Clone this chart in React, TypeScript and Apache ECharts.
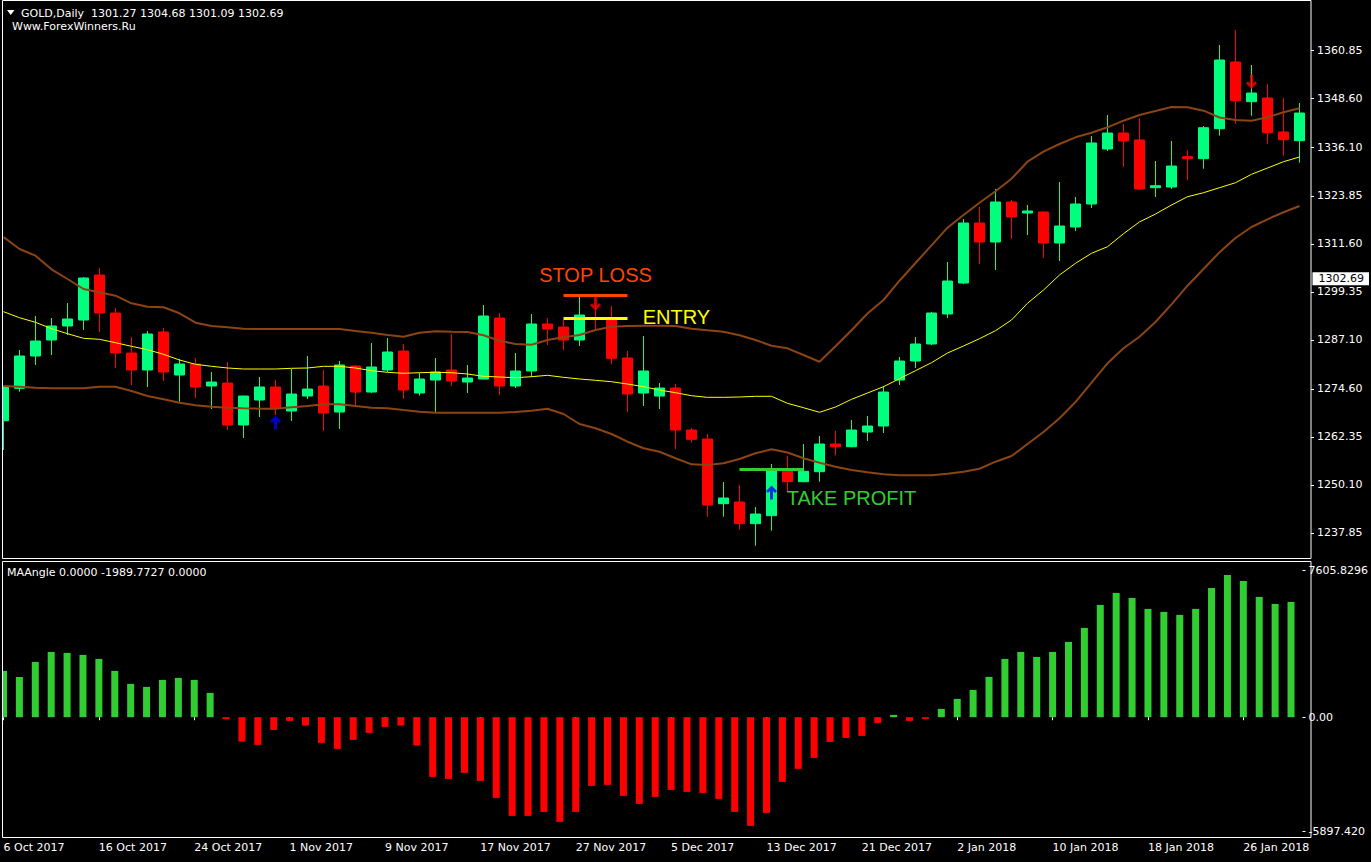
import { useEffect, useRef } from "react";
import * as echarts from "echarts";

const dates = [
  "6 Oct 2017", "9 Oct 2017", "10 Oct 2017", "11 Oct 2017", "12 Oct 2017", "13 Oct 2017",
  "16 Oct 2017", "17 Oct 2017", "18 Oct 2017", "19 Oct 2017", "20 Oct 2017", "23 Oct 2017",
  "24 Oct 2017", "25 Oct 2017", "26 Oct 2017", "27 Oct 2017", "30 Oct 2017", "31 Oct 2017",
  "1 Nov 2017", "2 Nov 2017", "3 Nov 2017", "6 Nov 2017", "7 Nov 2017", "8 Nov 2017",
  "9 Nov 2017", "10 Nov 2017", "13 Nov 2017", "14 Nov 2017", "15 Nov 2017", "16 Nov 2017",
  "17 Nov 2017", "20 Nov 2017", "21 Nov 2017", "22 Nov 2017", "23 Nov 2017", "24 Nov 2017",
  "27 Nov 2017", "28 Nov 2017", "29 Nov 2017", "30 Nov 2017", "1 Dec 2017", "4 Dec 2017",
  "5 Dec 2017", "6 Dec 2017", "7 Dec 2017", "8 Dec 2017", "11 Dec 2017", "12 Dec 2017",
  "13 Dec 2017", "14 Dec 2017", "15 Dec 2017", "18 Dec 2017", "19 Dec 2017", "20 Dec 2017",
  "21 Dec 2017", "22 Dec 2017", "26 Dec 2017", "27 Dec 2017", "28 Dec 2017", "29 Dec 2017",
  "2 Jan 2018", "3 Jan 2018", "4 Jan 2018", "5 Jan 2018", "8 Jan 2018", "9 Jan 2018",
  "10 Jan 2018", "11 Jan 2018", "12 Jan 2018", "15 Jan 2018", "16 Jan 2018", "17 Jan 2018",
  "18 Jan 2018", "19 Jan 2018", "22 Jan 2018", "23 Jan 2018", "24 Jan 2018", "25 Jan 2018",
  "26 Jan 2018", "29 Jan 2018", "30 Jan 2018", "31 Jan 2018",
];

const open = [
  1266.48, 1274.75, 1282.99, 1287.07, 1290.64, 1292.17, 1303.64, 1293.95, 1283.75, 1279.42,
  1289.11, 1278.14, 1280.95, 1275.33, 1276.10, 1265.39, 1271.76, 1275.08, 1268.96, 1272.78,
  1275.33, 1268.70, 1280.44, 1273.80, 1279.42, 1284.26, 1273.55, 1276.86, 1279.42, 1276.35,
  1277.12, 1292.68, 1275.33, 1279.16, 1291.15, 1290.38, 1287.07, 1292.55, 1292.17, 1282.48,
  1273.55, 1272.78, 1274.82, 1264.11, 1261.82, 1245.32, 1245.75, 1240.22, 1242.26, 1253.58,
  1250.93, 1253.48, 1260.54, 1259.85, 1263.60, 1265.13, 1276.86, 1281.71, 1286.05, 1293.70,
  1301.60, 1316.91, 1312.06, 1322.26, 1319.46, 1319.71, 1311.81, 1315.89, 1321.75, 1335.78,
  1339.86, 1338.08, 1325.91, 1326.09, 1333.82, 1333.31, 1340.96, 1357.97, 1347.84, 1348.79,
  1340.11, 1337.90,
];
const close = [
  1275.16, 1282.99, 1286.81, 1290.64, 1292.42, 1302.88, 1293.95, 1283.75, 1279.42, 1288.60,
  1278.91, 1280.95, 1275.08, 1276.35, 1265.39, 1272.78, 1275.08, 1269.72, 1273.29, 1274.57,
  1268.45, 1280.69, 1273.80, 1280.18, 1284.01, 1274.31, 1277.12, 1278.91, 1276.61, 1277.37,
  1293.19, 1275.33, 1279.16, 1291.15, 1289.87, 1287.07, 1293.44, 1292.29, 1282.40, 1273.29,
  1279.16, 1274.82, 1264.11, 1261.74, 1244.98, 1246.77, 1240.22, 1242.69, 1253.91, 1250.93,
  1253.58, 1260.54, 1259.85, 1264.11, 1265.13, 1273.80, 1281.71, 1286.05, 1293.95, 1302.11,
  1316.91, 1312.06, 1322.26, 1318.44, 1319.97, 1311.81, 1316.14, 1321.75, 1337.31, 1339.86,
  1337.82, 1325.58, 1326.42, 1331.44, 1333.31, 1341.21, 1358.48, 1348.10, 1350.06, 1339.94,
  1338.15, 1344.96,
];
const low = [
  1259.01, 1273.88, 1280.69, 1283.24, 1288.34, 1289.62, 1289.11, 1279.93, 1275.59, 1275.08,
  1276.61, 1271.33, 1272.27, 1269.47, 1264.11, 1262.07, 1267.43, 1267.94, 1266.41, 1272.02,
  1263.86, 1264.37, 1270.23, 1273.60, 1278.91, 1272.02, 1272.86, 1268.70, 1275.33, 1273.55,
  1277.00, 1273.04, 1274.82, 1277.63, 1285.79, 1284.52, 1285.54, 1289.87, 1280.87, 1268.70,
  1270.23, 1269.47, 1259.27, 1260.88, 1242.00, 1242.00, 1238.69, 1234.60, 1238.43, 1248.38,
  1250.80, 1250.93, 1257.66, 1259.70, 1261.31, 1263.35, 1275.59, 1279.93, 1285.79, 1292.68,
  1301.35, 1306.45, 1304.92, 1312.83, 1313.85, 1307.98, 1307.21, 1314.87, 1320.73, 1335.27,
  1331.19, 1325.40, 1323.54, 1325.58, 1327.87, 1330.75, 1339.17, 1342.23, 1344.27, 1337.13,
  1334.07, 1332.29,
];
const high = [
  1275.33, 1284.52, 1293.19, 1292.68, 1296.50, 1303.10, 1305.43, 1295.23, 1287.83, 1289.36,
  1290.13, 1282.22, 1282.48, 1278.91, 1281.46, 1272.90, 1277.63, 1276.86, 1279.67, 1282.99,
  1279.42, 1281.71, 1280.69, 1286.30, 1287.58, 1286.05, 1278.65, 1282.48, 1288.60, 1280.69,
  1295.99, 1293.95, 1283.75, 1293.70, 1292.68, 1292.17, 1298.03, 1295.99, 1295.74, 1284.26,
  1288.09, 1276.10, 1275.84, 1264.62, 1263.09, 1250.85, 1250.09, 1244.47, 1255.44, 1257.56,
  1260.54, 1262.58, 1263.86, 1266.66, 1267.68, 1275.33, 1282.73, 1287.83, 1294.21, 1306.96,
  1317.93, 1320.99, 1325.58, 1322.77, 1321.50, 1319.97, 1327.36, 1323.54, 1339.09, 1344.45,
  1342.16, 1343.69, 1332.72, 1337.82, 1335.52, 1341.64, 1362.30, 1366.13, 1357.20, 1352.36,
  1348.79, 1347.51,
];

const upperBand = [
  1313.34, 1310.28, 1308.57, 1305.10, 1302.62, 1300.07, 1299.23, 1298.37, 1296.43, 1295.56,
  1295.41, 1293.88, 1291.48, 1290.64, 1290.31, 1289.95, 1289.87, 1289.87, 1289.87, 1289.87,
  1289.87, 1289.87, 1289.36, 1288.93, 1288.34, 1287.91, 1288.93, 1289.29, 1289.18, 1289.11,
  1288.27, 1286.89, 1286.05, 1285.87, 1287.07, 1287.76, 1288.34, 1289.62, 1290.46, 1290.64,
  1290.71, 1290.71, 1290.64, 1289.95, 1289.54, 1289.18, 1288.27, 1287.07, 1285.61, 1284.95,
  1283.24, 1281.53, 1285.49, 1289.57, 1293.83, 1297.27, 1302.19, 1306.70, 1311.22, 1315.71,
  1318.95, 1322.08, 1324.99, 1328.20, 1332.54, 1335.09, 1337.05, 1338.76, 1339.94, 1341.31,
  1343.00, 1344.45, 1345.47, 1346.49, 1346.41, 1345.55, 1343.81, 1343.18, 1343.00, 1343.86,
  1345.14, 1346.16,
];
const middleBand = [
  1294.29, 1292.75, 1291.58, 1289.95, 1288.67, 1287.50, 1287.24, 1286.38, 1285.46, 1284.59,
  1283.42, 1281.97, 1280.87, 1280.36, 1279.93, 1279.67, 1279.67, 1279.67, 1279.85, 1279.93,
  1280.36, 1280.36, 1279.93, 1279.24, 1278.83, 1278.57, 1278.73, 1278.83, 1278.73, 1278.40,
  1277.81, 1277.63, 1277.45, 1277.71, 1278.06, 1277.55, 1277.12, 1276.79, 1276.43, 1275.84,
  1275.16, 1274.31, 1273.63, 1272.86, 1272.45, 1272.45, 1272.53, 1272.71, 1272.71, 1270.92,
  1269.80, 1268.63, 1269.98, 1271.94, 1273.55, 1275.16, 1277.20, 1279.24, 1281.28, 1283.75,
  1285.54, 1287.40, 1289.44, 1292.17, 1296.43, 1299.82, 1303.64, 1306.63, 1309.18, 1310.86,
  1314.18, 1317.19, 1319.20, 1321.50, 1323.61, 1324.63, 1325.91, 1327.18, 1329.33, 1330.93,
  1332.54, 1333.74,
];
const lowerBand = [
  1275.33, 1275.16, 1274.90, 1274.75, 1274.75, 1274.75, 1275.16, 1275.16, 1274.06, 1272.78,
  1271.94, 1271.08, 1270.41, 1270.06, 1269.80, 1269.65, 1269.55, 1269.55, 1269.90, 1270.23,
  1270.67, 1270.67, 1270.23, 1269.80, 1269.65, 1269.21, 1268.78, 1268.53, 1268.53, 1268.53,
  1268.53, 1268.53, 1268.70, 1269.04, 1269.55, 1268.19, 1265.64, 1264.55, 1263.09, 1261.13,
  1259.45, 1258.58, 1256.90, 1255.36, 1255.19, 1255.62, 1256.72, 1258.17, 1259.19, 1258.37,
  1256.90, 1255.77, 1254.75, 1253.91, 1253.32, 1252.82, 1252.56, 1252.56, 1252.56, 1252.97,
  1253.48, 1254.24, 1256.03, 1257.48, 1260.54, 1263.60, 1267.10, 1271.25, 1276.18, 1281.13,
  1284.95, 1287.91, 1291.66, 1296.17, 1300.92, 1305.17, 1309.43, 1313.08, 1315.89, 1317.85,
  1319.64, 1321.24,
];

const maAngle = [
  2395, 2085, 2861, 3378, 3326, 3223, 3016, 2395, 1723, 1568,
  1930, 2033, 1930, 1257, -100, -1262, -1433, -657, -191, -433,
  -1330, -1640, -1174, -812, -502, -433, -1469, -3088, -3192, -2881,
  -3295, -4175, -5106, -5106, -4899, -5416, -4899, -3554, -3502, -4071,
  -4485, -4123, -3761, -3864, -3916, -4227, -4899, -5623, -4951, -3347,
  -2674, -2105, -1278, -1071, -967, -295, 119, -191, -88, 429,
  947, 1412, 2085, 3016, 3378, 3119, 3378, 3895, 4620, 5810,
  6430, 6171, 5603, 5448, 5293, 5603, 6689, 7361, 7051, 6223,
  5862, 5965,
];

const priceTicks = [1237.85, 1250.1, 1262.35, 1274.6, 1287.1, 1299.35, 1311.6, 1323.85, 1336.1, 1348.6, 1360.85];
const angleTicks = [7605.8296, 0, -5897.4205];
const angleTickLabels = ["7605.8296", "0.00", "-5897.420"];

const lastPrice = 1302.69;
const stopLoss = { price: 1298.47, from: 35, to: 39 };
const entry = { price: 1292.6, from: 35, to: 39 };
const takeProfit = { price: 1254.09, from: 46, to: 50 };
const buyArrows = [[17, 1266.02], [48, 1248.17]];
const sellArrows = [[37, 1296.33], [78, 1352.94]];

const UP_ARROW = "path://M5.5,0 L11,5.5 L9,7.5 L7,5.5 L7,14 L4,14 L4,5.5 L2,7.5 L0,5.5 Z";
const DOWN_ARROW = "path://M5.5,14 L11,8.5 L9,6.5 L7,8.5 L7,0 L4,0 L4,8.5 L2,6.5 L0,8.5 Z";

const FONT = "DejaVu Sans";
const BIG_FONT = "Liberation Sans";

function levelLine(level: { price: number; from: number; to: number }, color: string) {
  const ls = { color, width: 3, type: "solid" as const, opacity: 1 };
  return [
    { coord: [dates[level.from], level.price], lineStyle: ls, label: { show: false } },
    { coord: [dates[level.to], level.price], lineStyle: ls, label: { show: false } },
  ];
}

export default function App() {
  const ref = useRef<HTMLDivElement>(null);
  useEffect(() => {
    document.body.style.margin = "0";
    document.body.style.background = "#000";
    const chart = echarts.init(ref.current!, null, { renderer: "svg" });
    const option: any = {
      animation: false,
      backgroundColor: "#000",
      textStyle: { fontFamily: FONT, fontSize: 11, color: "#fff" },
      grid: [
        { left: 3.5, top: 2, width: 1296, height: 556 },
        { left: 3.5, top: 561, width: 1296, height: 277 },
      ],
      xAxis: [
        {
          type: "category", gridIndex: 0, data: dates, boundaryGap: false,
          axisLine: { show: false }, axisTick: { show: false }, axisLabel: { show: false }, splitLine: { show: false },
        },
        {
          type: "category", gridIndex: 1, data: dates, boundaryGap: false,
          axisLine: { show: false },
          axisTick: { show: true, interval: 5, length: 3, lineStyle: { color: "#fff" } },
          axisLabel: { interval: 5, color: "#fff", fontSize: 11, fontFamily: FONT, align: "left", margin: 4 },
          splitLine: { show: false },
        },
      ],
      yAxis: [
        {
          type: "value", gridIndex: 0, position: "right", offset: 11.5,
          min: 1231.47, max: 1373.27,
          axisLine: { show: false },
          axisTick: { show: true, length: 3, customValues: priceTicks, lineStyle: { color: "#fff" } },
          axisLabel: {
            customValues: priceTicks, color: "#fff", fontSize: 11, fontFamily: FONT, margin: 6,
            formatter: (v: number) => v.toFixed(2),
          },
          splitLine: { show: false },
        },
        {
          type: "value", gridIndex: 1, position: "right", offset: 11.5,
          min: -6250, max: 8082,
          axisLine: { show: false },
          axisTick: { show: true, length: 3, customValues: angleTicks, lineStyle: { color: "#fff" } },
          axisLabel: {
            customValues: angleTicks, color: "#fff", fontSize: 11, fontFamily: FONT, margin: 6,
            formatter: (v: number) => {
              const k = angleTicks.findIndex((t) => Math.abs(t - v) < 1e-6);
              return k >= 0 ? angleTickLabels[k] : "";
            },
          },
          splitLine: { show: false },
        },
      ],
      series: [
        {
          type: "candlestick", xAxisIndex: 0, yAxisIndex: 0, barWidth: 10, clip: false,
          data: dates.map((_, i) => [open[i], close[i], low[i], high[i]]),
          itemStyle: { color: "#00FF7F", color0: "#FF0000", borderColor: "#00FF7F", borderColor0: "#FF0000", borderWidth: 1 },
          emphasis: { disabled: true },
          markLine: {
            silent: true, symbol: ["none", "none"], animation: false,
            label: { show: false },
            data: [
              levelLine(stopLoss, "#FF4500"),
              levelLine(entry, "#FFFF00"),
              levelLine(takeProfit, "#32CD32"),
            ],
          },
        },
        {
          type: "line", xAxisIndex: 0, yAxisIndex: 0, data: upperBand, symbol: "none", silent: true,
          lineStyle: { color: "#8B4513", width: 2 }, z: 3,
        },
        {
          type: "line", xAxisIndex: 0, yAxisIndex: 0, data: middleBand, symbol: "none", silent: true,
          lineStyle: { color: "#FFFF00", width: 1 }, z: 3,
        },
        {
          type: "line", xAxisIndex: 0, yAxisIndex: 0, data: lowerBand, symbol: "none", silent: true,
          lineStyle: { color: "#8B4513", width: 2 }, z: 3,
          markLine: {
            silent: true, symbol: ["none", "none"], animation: false,
            data: [
              {
                yAxis: lastPrice,
                lineStyle: { color: "rgba(0,0,0,0)", width: 0 },
                label: {
                  show: true, position: "end", distance: 13, formatter: lastPrice.toFixed(2),
                  color: "#000", backgroundColor: "#fff", padding: [1, 5, 1, 6],
                  fontSize: 11, fontFamily: FONT,
                },
              },
            ],
          },
        },
        {
          type: "scatter", xAxisIndex: 0, yAxisIndex: 0, data: buyArrows, symbol: UP_ARROW,
          symbolSize: [11, 14], itemStyle: { color: "#0000FF" }, silent: true, z: 4,
        },
        {
          type: "scatter", xAxisIndex: 0, yAxisIndex: 0, data: sellArrows, symbol: DOWN_ARROW,
          symbolSize: [11, 14], itemStyle: { color: "#FF0000" }, silent: true, z: 4,
        },
        {
          type: "bar", xAxisIndex: 1, yAxisIndex: 1, data: maAngle, barWidth: 7, silent: true, clip: false,
          itemStyle: { color: (p: any) => (p.value >= 0 ? "#32CD32" : "#FF0000") },
        },
      ],
      graphic: [
        { type: "rect", z: 99, shape: { x: 0, y: 0, width: 2, height: 862 }, style: { fill: "#000" } },
        { type: "rect", z: 100, shape: { x: 2.5, y: 0.5, width: 1308.5, height: 558 }, style: { fill: "none", stroke: "#fff", lineWidth: 1 } },
        { type: "rect", z: 100, shape: { x: 2.5, y: 561.5, width: 1308.5, height: 276 }, style: { fill: "none", stroke: "#fff", lineWidth: 1 } },
        { type: "polygon", z: 100, shape: { points: [[7, 10], [14.5, 10], [10.75, 15]] }, style: { fill: "#fff" } },
        {
          type: "text", z: 100, x: 21, y: 13.3,
          style: { text: "GOLD,Daily  1301.27 1304.68 1301.09 1302.69", fill: "#fff", font: `11px "${FONT}"`, textVerticalAlign: "middle", verticalAlign: "middle" },
        },
        {
          type: "text", z: 100, x: 12, y: 26,
          style: { text: "Www.ForexWinners.Ru", fill: "#fff", font: `11px "${FONT}"`, textVerticalAlign: "middle", verticalAlign: "middle" },
        },
        {
          type: "text", z: 100, x: 7, y: 572.7,
          style: { text: "MAAngle 0.0000 -1989.7727 0.0000", fill: "#fff", font: `11px "${FONT}"`, textVerticalAlign: "middle", verticalAlign: "middle" },
        },
        {
          type: "text", z: 100, x: 595.5, y: 274.5,
          style: { text: "STOP LOSS", fill: "#FF4500", font: `20px "${BIG_FONT}"`, textAlign: "center", align: "center", textVerticalAlign: "middle", verticalAlign: "middle" },
        },
        {
          type: "text", z: 100, x: 642.7, y: 316.7,
          style: { text: "ENTRY", fill: "#FFFF00", font: `20px "${BIG_FONT}"`, textVerticalAlign: "middle", verticalAlign: "middle" },
        },
        {
          type: "text", z: 100, x: 786.7, y: 498.3,
          style: { text: "TAKE PROFIT", fill: "#32CD32", font: `20px "${BIG_FONT}"`, textVerticalAlign: "middle", verticalAlign: "middle" },
        },
      ],
    };
    chart.setOption(option);
    return () => chart.dispose();
  }, []);
  return <div ref={ref} style={{ width: 1371, height: 862, background: "#000" }} />;
}
